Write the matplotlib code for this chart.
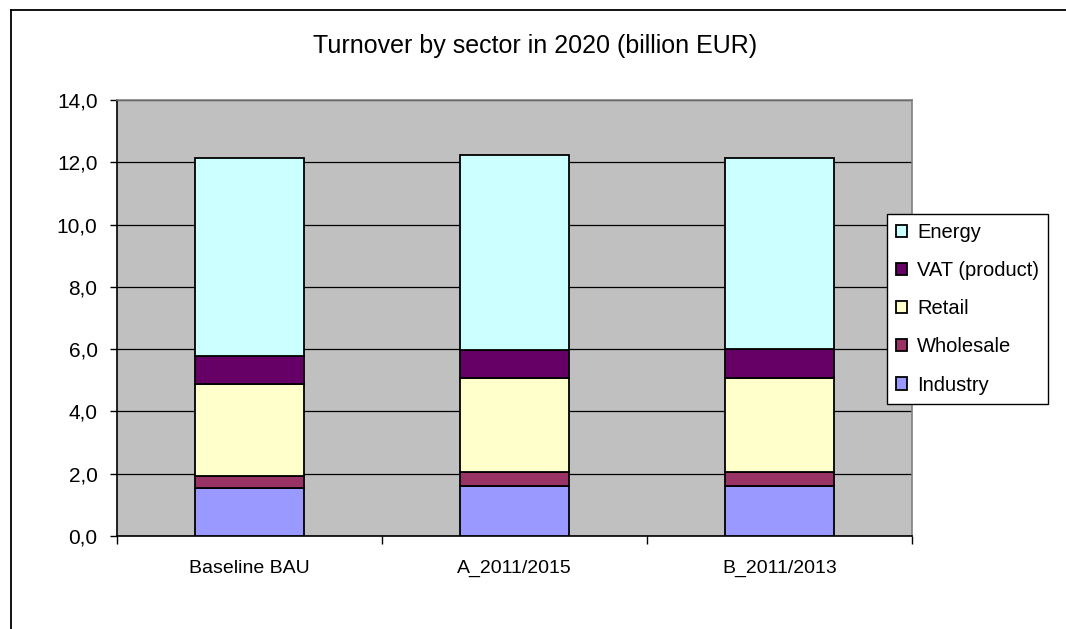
import matplotlib
matplotlib.use("Agg")
import matplotlib.pyplot as plt
from matplotlib.lines import Line2D
import numpy as np

plt.rcParams['font.family'] = ['Liberation Sans', 'DejaVu Sans']

categories = ["Baseline BAU", "A_2011/2015", "B_2011/2013"]
industry = [1.53, 1.59, 1.59]
wholesale = [0.40, 0.46, 0.46]
retail = [2.95, 3.02, 3.02]
vat = [0.89, 0.91, 0.95]
energy = [6.37, 6.24, 6.12]

series = [
    ("Industry", industry, "#9999FF"),
    ("Wholesale", wholesale, "#993366"),
    ("Retail", retail, "#FFFFCC"),
    ("VAT (product)", vat, "#660066"),
    ("Energy", energy, "#CCFFFF"),
]

fig = plt.figure(figsize=(10.66, 6.29), dpi=100)
ax = fig.add_axes([117/1066, 1-536/629, (912-117)/1066, (536-100)/629])
ax.set_facecolor("#C0C0C0")

x = np.arange(len(categories))
bottom = np.zeros(len(categories))
handles = []
for name, vals, color in series:
    b = ax.bar(x, vals, 0.41, bottom=bottom, color=color, edgecolor="black",
               linewidth=1.3, label=name, zorder=3)
    bottom += np.array(vals)
    handles.append(b)

ax.set_xlim(-0.5, 2.5)
ax.set_ylim(0, 14)
ax.set_yticks(np.arange(0, 14.1, 2))
ax.set_yticklabels([f"{v:.1f}".replace(".", ",") for v in np.arange(0, 14.1, 2)])
ax.yaxis.grid(True, color="black", linewidth=0.9, zorder=1)
ax.set_axisbelow(True)

ax.set_xticks(x)
ax.set_xticklabels(categories)
ax.set_xticks([-0.5, 0.5, 1.5, 2.5], minor=True)
ax.tick_params(axis='x', which='major', length=0, pad=17, labelsize=14)
ax.tick_params(axis='x', which='minor', length=6, width=1, direction='out', color='black')
ax.tick_params(axis='y', length=5, width=1, direction='out', pad=9, labelsize=15)

for s in ['top', 'right']:
    ax.spines[s].set_color("#808080")
    ax.spines[s].set_linewidth(1.2)
for s in ['left', 'bottom']:
    ax.spines[s].set_color("black")
    ax.spines[s].set_linewidth(1.2)

fig.text(535/1066, 1-46/629, "Turnover by sector in 2020 (billion EUR)",
         ha='center', va='center', fontsize=18)

leg = fig.legend(handles[::-1], [s[0] for s in series][::-1],
                 loc='upper left', bbox_to_anchor=(887/1066, 1-214/629),
                 frameon=True, fancybox=False, shadow=False, fontsize=14.5,
                 handlelength=0.55, handleheight=0.55, handletextpad=0.5,
                 labelspacing=0.95, borderpad=0.45, borderaxespad=0)
leg.get_frame().set_edgecolor("black")
leg.get_frame().set_linewidth(1.0)
leg.get_frame().set_facecolor("white")
leg.get_frame().set_alpha(1)
leg.set_zorder(10)

# outer chart frame (left and top visible)
fig.add_artist(Line2D([11/1066, 11/1066], [0, 1-10/629], color='black', linewidth=1.3))
fig.add_artist(Line2D([11/1066, 1], [1-10/629, 1-10/629], color='black', linewidth=1.3))

fig.savefig("out.png", dpi=100)
